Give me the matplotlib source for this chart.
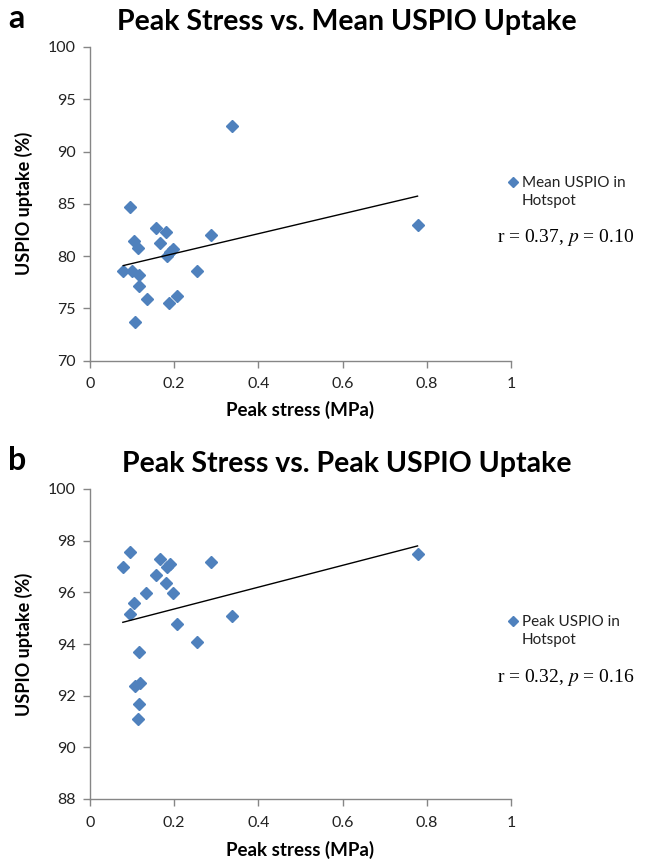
import numpy as np
import matplotlib
matplotlib.use("Agg")
import matplotlib.pyplot as plt
from matplotlib.lines import Line2D

# ---- data ----
stress_a = [0.337, 0.094, 0.156, 0.181, 0.288, 0.778, 0.104, 0.113, 0.166, 0.196, 0.184,
            0.190, 0.079, 0.099, 0.117, 0.254, 0.116, 0.135, 0.188, 0.206, 0.107]
mean_uspio = [92.45, 84.7, 82.65, 82.25, 82.05, 83.0, 81.45, 80.8, 81.2, 80.7, 80.0,
              80.35, 78.6, 78.55, 78.15, 78.55, 77.1, 75.9, 75.5, 76.2, 73.7]

stress_b = [0.078, 0.094, 0.166, 0.189, 0.182, 0.288, 0.778, 0.156, 0.181, 0.134, 0.196,
            0.105, 0.095, 0.206, 0.337, 0.254, 0.117, 0.107, 0.118, 0.116, 0.114]
peak_uspio = [96.98, 97.58, 97.3, 97.08, 96.98, 97.19, 97.47, 96.67, 96.38, 95.99, 95.99,
              95.59, 95.18, 94.77, 95.08, 94.06, 93.7, 92.37, 92.5, 91.69, 91.11]

titles = ["Peak Stress vs. Mean USPIO Uptake", "Peak Stress vs. Peak USPIO Uptake"]
panel_letters = ["a", "b"]
legend_labels = ["Mean USPIO in\nHotspot", "Peak USPIO in\nHotspot"]
r_values = ["0.37", "0.32"]
p_values = ["0.10", "0.16"]
x_ticks = [0, 0.2, 0.4, 0.6, 0.8, 1]
y_ticks_a = [70, 75, 80, 85, 90, 95, 100]
y_ticks_b = [88, 90, 92, 94, 96, 98, 100]

plt.rcParams['font.family'] = ['Lato', 'DejaVu Sans']
plt.rcParams['mathtext.fontset'] = 'stix'
W, H = 646, 864
fig = plt.figure(figsize=(W / 100, H / 100), dpi=100)

blue = '#4F81BD'
gray = '#868686'

def px_axes(left, top, right, bottom):
    return fig.add_axes([left / W, 1 - bottom / H, (right - left) / W, (bottom - top) / H])

panels = [
    dict(ax=px_axes(90, 47, 511, 360.5), x=stress_a, y=mean_uspio, yt=y_ticks_a,
         title_y=22, leg_y=192, r_y=238, xlabel_y=410),
    dict(ax=px_axes(90, 489, 511, 799), x=stress_b, y=peak_uspio, yt=y_ticks_b,
         title_y=464, leg_y=631, r_y=677, xlabel_y=850),
]

for i, p in enumerate(panels):
    ax = p['ax']
    x = np.array(p['x']); y = np.array(p['y'])
    ax.plot(x, y, linestyle='none', marker='D', ms=6.2, color=blue, mec=blue)
    k, b = np.polyfit(x, y, 1)
    xs = np.array([x.min(), x.max()])
    ax.plot(xs, k * xs + b, color='black', lw=1.0)
    ax.set_xlim(0, 1)
    ax.set_ylim(p['yt'][0], p['yt'][-1])
    ax.set_xticks(x_ticks)
    ax.set_xticklabels([f"{t:g}" for t in x_ticks])
    ax.set_yticks(p['yt'])
    for s in ['top', 'right']:
        ax.spines[s].set_visible(False)
    for s in ['left', 'bottom']:
        ax.spines[s].set_color(gray)
        ax.spines[s].set_linewidth(1.0)
    ax.tick_params(direction='out', length=5, width=1.0, color=gray, labelsize=11.5,
                   labelcolor='#222222')
    ax.tick_params(axis='x', pad=7)
    ax.tick_params(axis='y', pad=5)
    ax.set_ylabel("USPIO uptake (%)", fontsize=13, fontweight='bold', labelpad=11)
    fig.text(300 / W, 1 - p['xlabel_y'] / H, "Peak stress (MPa)", fontsize=13.5,
             fontweight='bold', ha='center', va='center')
    fig.text(347 / W, 1 - p['title_y'] / H, titles[i], fontsize=20.5, fontweight='bold',
             ha='center', va='center')
    fig.text(8 / W, 1 - (p['title_y'] - 3) / H, panel_letters[i], fontsize=23,
             fontweight='bold', ha='left', va='center')
    # legend
    fig.lines.append(Line2D([513 / W], [1 - (p['leg_y'] - 10) / H], marker='D', ms=5.5,
                            color=blue, transform=fig.transFigure, linestyle='none'))
    fig.text(522 / W, 1 - p['leg_y'] / H, legend_labels[i], fontsize=11, ha='left',
             va='center', linespacing=1.4, color='#222222')
    fig.text(566 / W, 1 - p['r_y'] / H,
             r"r = " + r_values[i] + r", $\mathit{p}$ = " + p_values[i],
             fontsize=14, family='Liberation Serif', ha='center', va='center')

fig.savefig("out.png", dpi=100)
